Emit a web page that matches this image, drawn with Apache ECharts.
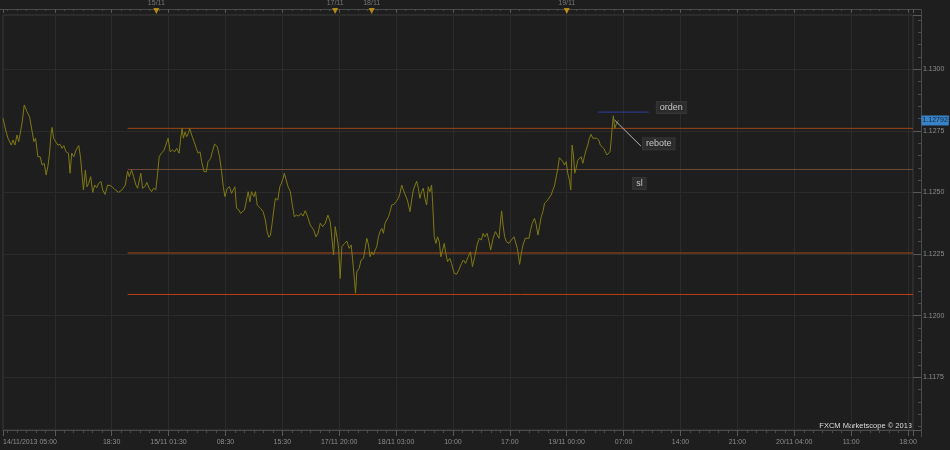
<!DOCTYPE html>
<html>
<head>
<meta charset="utf-8">
<script src="https://cdn.jsdelivr.net/npm/echarts@6/dist/echarts.min.js"></script>
<style>
html, body { margin: 0; padding: 0; background: #1e1e1e; }
#chart { width: 950px; height: 450px; }
</style>
</head>
<body>
<div id="chart"></div>
<script>
// x = trading hours counted from 14/11/2013 04:30 (weekend gap removed)
var timeHours = [
    0.63, 0.96, 1.24, 1.65, 1.86, 2.10, 2.35, 2.56, 2.75, 3.00,
    3.24, 3.57, 3.90, 4.22, 4.43, 4.64, 4.92, 5.20, 5.45, 5.70,
    5.94, 6.15, 6.36, 6.55, 6.68, 6.85, 7.09, 7.38, 7.66, 7.90,
    8.11, 8.39, 8.69, 8.88, 9.09, 9.34, 9.62, 9.95, 10.16, 10.36,
    10.53, 10.77, 10.97, 11.18, 11.42, 11.67, 11.91, 12.16, 12.40, 12.69,
    12.90, 13.18, 13.51, 13.91, 14.33, 14.86, 15.26, 15.68, 15.96, 16.17,
    16.45, 16.70, 16.98, 17.19, 17.40, 17.59, 17.80, 18.08, 18.33, 18.62,
    18.91, 19.15, 19.43, 19.64, 19.85, 20.13,
    20.46, 20.66, 20.95, 21.20, 21.48, 21.76, 22.01, 22.30, 22.50, 22.67,
    22.83, 23.04, 23.23, 23.44, 23.60, 23.85, 24.14, 24.42, 24.63, 24.88,
    25.07, 25.37, 25.65, 25.86, 26.18, 26.39, 26.67, 27.00, 27.28, 27.53,
    27.74, 27.94, 28.23, 28.51, 28.75, 28.96, 29.17, 29.37, 29.66, 29.86,
    30.10, 30.35, 30.59, 30.80, 31.01, 31.21, 31.50, 31.70, 31.91, 32.31,
    32.64, 32.92, 33.13, 33.34, 33.54, 33.75, 33.95, 34.15, 34.44, 34.69,
    34.89, 35.09, 35.25, 35.46, 35.71, 35.99, 36.20, 36.48, 36.73, 37.02,
    37.30, 37.55, 37.83, 38.12, 38.44,
    38.86, 39.14, 39.39, 39.67, 39.96, 40.28, 40.61, 40.90, 41.10, 41.31,
    41.51, 41.75, 41.93, 42.12, 42.33, 42.66, 42.94, 43.23, 43.47, 43.64,
    43.89, 44.01, 44.17, 44.45, 44.70, 44.99, 45.19, 45.40, 45.61, 45.80,
    46.01, 46.22, 46.42, 46.62, 46.83, 47.03, 47.24, 47.45, 47.64, 47.85,
    48.06, 48.26, 48.46, 48.75, 48.99, 49.28, 49.48, 49.69, 49.90, 50.09,
    50.39, 50.71, 50.92, 51.12, 51.32, 51.53, 51.74, 51.93, 52.14, 52.35,
    52.55, 52.76, 52.96, 53.16, 53.37, 53.49, 53.70, 53.90, 54.10, 54.31,
    54.51, 54.72, 54.93, 55.12, 55.33, 55.61, 55.82, 56.15, 56.43, 56.72,
    57.05, 57.29, 57.54, 57.87, 58.15,
    58.40, 58.68, 58.97, 59.22, 59.50, 59.71, 59.91, 60.20, 60.45, 60.64,
    60.94, 61.22, 61.46, 61.67, 61.87, 61.99, 62.16, 62.36, 62.57, 62.90,
    63.18, 63.51, 63.71, 63.92, 64.13, 64.20, 64.41, 64.62, 64.90, 65.14,
    65.35, 65.55, 65.76, 66.04, 66.25, 66.46, 66.65, 66.86, 67.07, 67.27,
    67.56, 67.80, 68.09, 68.29, 68.49, 68.70, 68.91, 69.10, 69.31, 69.52,
    69.72, 69.93, 70.13, 70.33, 70.50, 70.66, 70.82, 70.99, 71.15, 71.36,
    71.56, 71.77, 71.98, 72.17, 72.38, 72.59, 72.79, 73.00, 73.20, 73.40,
    73.69, 73.94, 74.13, 74.34, 74.55, 74.75, 74.96, 75.17, 75.33, 75.45,
    75.57, 75.73, 75.90, 76.06, 76.27, 76.39
];
var closePrices = [
    1.12801, 1.12753, 1.12720, 1.12692, 1.12713, 1.12692, 1.12733, 1.12706, 1.12740, 1.12787,
    1.12855, 1.12828, 1.12807, 1.12746, 1.12706, 1.12720, 1.12645, 1.12645, 1.12611, 1.12618,
    1.12571, 1.12604, 1.12659, 1.12740, 1.12764, 1.12720, 1.12713, 1.12692, 1.12695, 1.12679,
    1.12690, 1.12665, 1.12659, 1.12578, 1.12659, 1.12645, 1.12672, 1.12690, 1.12645, 1.12571,
    1.12510, 1.12591, 1.12523, 1.12537, 1.12564, 1.12500, 1.12530, 1.12519, 1.12537, 1.12544,
    1.12510, 1.12492, 1.12530, 1.12527, 1.12514, 1.12500, 1.12510, 1.12530, 1.12587, 1.12564,
    1.12591, 1.12564, 1.12530, 1.12517, 1.12523, 1.12578, 1.12517, 1.12523, 1.12541, 1.12517,
    1.12503, 1.12517, 1.12510, 1.12571, 1.12645, 1.12659,
    1.12672, 1.12692, 1.12720, 1.12665, 1.12672, 1.12665, 1.12679, 1.12659, 1.12720, 1.12760,
    1.12720, 1.12746, 1.12726, 1.12740, 1.12760, 1.12733, 1.12706, 1.12679, 1.12659, 1.12665,
    1.12625, 1.12584, 1.12584, 1.12625, 1.12638, 1.12665, 1.12696, 1.12686, 1.12645, 1.12584,
    1.12523, 1.12483, 1.12517, 1.12523, 1.12496, 1.12510, 1.12523, 1.12436, 1.12429, 1.12415,
    1.12411, 1.12429, 1.12469, 1.12503, 1.12462, 1.12503, 1.12483, 1.12503, 1.12449, 1.12436,
    1.12422, 1.12388, 1.12341, 1.12318, 1.12327, 1.12375, 1.12429, 1.12476, 1.12469, 1.12523,
    1.12537, 1.12557, 1.12578, 1.12580, 1.12523, 1.12503, 1.12456, 1.12401, 1.12408, 1.12404,
    1.12415, 1.12404, 1.12426, 1.12401, 1.12368,
    1.12348, 1.12320, 1.12334, 1.12375, 1.12361, 1.12375, 1.12408, 1.12381, 1.12375, 1.12246,
    1.12361, 1.12314, 1.12273, 1.12151, 1.12280, 1.12293, 1.12303, 1.12273, 1.12287, 1.12233,
    1.12138, 1.12091, 1.12178, 1.12192, 1.12226, 1.12233, 1.12239, 1.12314, 1.12287, 1.12239,
    1.12259, 1.12246, 1.12266, 1.12280, 1.12320, 1.12341, 1.12354, 1.12334, 1.12375, 1.12375,
    1.12401, 1.12422, 1.12449, 1.12452, 1.12462, 1.12476, 1.12496, 1.12530, 1.12510, 1.12503,
    1.12469, 1.12422, 1.12469, 1.12510, 1.12517, 1.12546, 1.12517, 1.12476, 1.12503, 1.12517,
    1.12476, 1.12449, 1.12523, 1.12503, 1.12530, 1.12462, 1.12320, 1.12293, 1.12320, 1.12300,
    1.12239, 1.12266, 1.12293, 1.12253, 1.12219, 1.12233, 1.12212, 1.12172, 1.12168, 1.12185,
    1.12212, 1.12226, 1.12212, 1.12239, 1.12259,
    1.12199, 1.12239, 1.12287, 1.12314, 1.12307, 1.12334, 1.12320, 1.12334, 1.12300, 1.12266,
    1.12314, 1.12341, 1.12348, 1.12314, 1.12388, 1.12425, 1.12368, 1.12320, 1.12300, 1.12293,
    1.12307, 1.12320, 1.12314, 1.12273, 1.12226, 1.12208, 1.12253, 1.12287, 1.12314, 1.12320,
    1.12314, 1.12348, 1.12375, 1.12395, 1.12368, 1.12327, 1.12361, 1.12401, 1.12422, 1.12456,
    1.12465, 1.12473, 1.12490, 1.12510, 1.12526, 1.12526, 1.12598, 1.12641, 1.12645, 1.12625,
    1.12611, 1.12625, 1.12578, 1.12550, 1.12510, 1.12692, 1.12652, 1.12578, 1.12598, 1.12631,
    1.12638, 1.12645, 1.12618, 1.12645, 1.12672, 1.12692, 1.12720, 1.12736, 1.12720, 1.12713,
    1.12720, 1.12713, 1.12692, 1.12699, 1.12679, 1.12665, 1.12652, 1.12652, 1.12665, 1.12706,
    1.12753, 1.12811, 1.12760, 1.12774, 1.12787, 1.12792
];
var lastPrice = 1.12792;

// hand drawn levels (start hour, price)
var levelStart = 15.96;
var levelPrices = [1.12760, 1.12593, 1.12254, 1.12086];
var levelColors = ['#9c4517', '#6f4a36', '#7a3a1a', '#b9410f'];
var levelWidths = [1, 1, 1.5, 1];

var ordenFrom = 73.85, ordenTo = 80.11, ordenPrice = 1.12826;
var reboteLine = [[75.88, 1.12794], [79.13, 1.12688]];
var noteNames = ['orden', 'rebote', 'sl'];
var notePoints = [[82.87, 1.12845], [81.33, 1.12698], [78.94, 1.12536]];

// day markers on the top ruler
var dayHours = [19.5, 41.5, 46, 70];
var dayLabels = ['15/11', '17/11', '18/11', '19/11'];

// bottom axis labels
var startLabel = '14/11/2013 05:00';
var tickHours = [7, 14, 21, 28, 35, 42, 49, 56, 63, 70, 77, 84, 91, 98, 105, 112];
var tickLabels = ['', '18:30', '15/11 01:30', '08:30', '15:30', '17/11 20:00', '18/11 03:00', '10:00',
    '17:00', '19/11 00:00', '07:00', '14:00', '21:00', '20/11 04:00', '11:00', '18:00'];

var xMin = 0.63, xMax = 112.61;
var yMin = 1.11536, yMax = 1.13220;

var chart = echarts.init(document.getElementById('chart'));

var pricePoints = [];
for (var i = 0; i < Math.min(timeHours.length, closePrices.length); i++) {
    pricePoints.push([timeHours[i], closePrices[i]]);
}

var gridColor = '#2b2b2b';
var frameColor = '#4a4a4a';
var textColor = '#8c8c8c';

var series = [{
    name: 'EUR/USD',
    type: 'line',
    data: pricePoints,
    showSymbol: false,
    symbol: 'none',
    lineStyle: { color: '#7f7a14', width: 1 },
    z: 5
}];

levelPrices.forEach(function (p, k) {
    series.push({
        type: 'line',
        data: [[levelStart, p], [xMax, p]],
        symbol: 'none',
        silent: true,
        lineStyle: { color: levelColors[k], width: levelWidths[k] },
        z: 3
    });
});

series.push({
    type: 'line',
    data: [[ordenFrom, ordenPrice], [ordenTo, ordenPrice]],
    symbol: 'none',
    silent: true,
    lineStyle: { color: '#2e3c9e', width: 1 },
    z: 3
});

series.push({
    type: 'line',
    data: reboteLine,
    symbol: 'none',
    silent: true,
    lineStyle: { color: '#b8b8b8', width: 1 },
    z: 6
});

series.push({
    type: 'scatter',
    data: notePoints,
    symbolSize: 1,
    itemStyle: { color: '#1e1e1e' },
    silent: true,
    z: 7,
    label: {
        show: true,
        position: 'inside',
        formatter: function (p) { return noteNames[p.dataIndex]; },
        color: '#e8e8e8',
        fontSize: 9,
        backgroundColor: '#2e2e2e',
        borderColor: '#3a3a3a',
        borderWidth: 1,
        padding: [1, 3, 1, 3]
    }
});

// last price tag on the price scale
series.push({
    type: 'scatter',
    data: [[xMax, lastPrice]],
    symbolSize: 1,
    itemStyle: { color: 'rgba(0,0,0,0)' },
    clip: false,
    silent: true,
    z: 8,
    label: {
        show: true,
        position: 'right',
        distance: 8,
        formatter: lastPrice.toFixed(5),
        backgroundColor: '#3f9cf2',
        color: '#0c0c0c',
        fontSize: 7,
        padding: [2, 1, 1, 1]
    }
});

series.push({
    type: 'scatter',
    xAxisIndex: 1,
    data: dayHours.map(function (h) { return [h, yMax]; }),
    symbol: 'triangle',
    symbolRotate: 180,
    symbolSize: [6, 6],
    symbolOffset: [0, -4],
    clip: false,
    silent: true,
    itemStyle: { color: '#d2a20f' },
    label: {
        show: true,
        position: 'top',
        distance: 1,
        formatter: function (p) { return dayLabels[p.dataIndex]; },
        color: textColor,
        fontSize: 7
    }
});

var option = {
    backgroundColor: '#1e1e1e',
    animation: false,
    textStyle: { fontFamily: 'Liberation Sans' },
    grid: {
        left: 0, right: 37, top: 15, bottom: 20,
        show: true,
        borderColor: '#3a3a3a',
        borderWidth: 1
    },
    xAxis: [{
        type: 'value',
        position: 'bottom',
        min: xMin,
        max: xMax,
        minInterval: 7,
        maxInterval: 7,
        splitNumber: 16,
        axisLine: { lineStyle: { color: frameColor } },
        axisTick: { show: true, length: 6, lineStyle: { color: '#585858' } },
        minorTick: { show: true, splitNumber: 6, length: 3, lineStyle: { color: '#4c4c4c' } },
        splitLine: { show: true, lineStyle: { color: gridColor } },
        axisLabel: {
            color: textColor,
            fontSize: 7,
            margin: 9,
            alignMinLabel: 'left',
            formatter: function (v) {
                if (Math.abs(v - xMin) < 0.001) return startLabel;
                for (var j = 0; j < tickHours.length; j++) {
                    if (Math.abs(v - tickHours[j]) < 0.001) return tickLabels[j];
                }
                return '';
            }
        }
    }, {
        type: 'value',
        position: 'top',
        offset: 6,
        min: xMin,
        max: xMax,
        minInterval: 7,
        maxInterval: 7,
        splitNumber: 16,
        axisLine: { lineStyle: { color: frameColor } },
        axisTick: { show: true, inside: true, length: 4, lineStyle: { color: '#585858' } },
        minorTick: { show: true, splitNumber: 6, length: 2, lineStyle: { color: '#4c4c4c' } },
        splitLine: { show: false },
        axisLabel: { show: false }
    }],
    yAxis: {
        type: 'value',
        position: 'right',
        offset: 8,
        min: yMin,
        max: yMax,
        minInterval: 0.0025,
        maxInterval: 0.0025,
        splitNumber: 7,
        axisLine: { show: true, lineStyle: { color: frameColor } },
        axisTick: { show: true, inside: true, length: 8, lineStyle: { color: '#585858' } },
        minorTick: { show: true, splitNumber: 5, length: 3, lineStyle: { color: '#4c4c4c' } },
        splitLine: { show: true, lineStyle: { color: gridColor } },
        axisLabel: {
            color: textColor,
            fontSize: 7,
            margin: 2,
            showMinLabel: false,
            showMaxLabel: false,
            formatter: function (v) { return v.toFixed(4); }
        }
    },
    graphic: [{
        type: 'polyline',
        silent: true,
        shape: { points: [[0, 9.5], [921.5, 9.5], [921.5, 437]] },
        style: { stroke: frameColor, fill: null, lineWidth: 1 }
    }, {
        type: 'text',
        right: 38,
        top: 422,
        silent: true,
        style: {
            text: 'FXCM Marketscope \u00a9 2013',
            fill: '#dedede',
            font: '7.5px "Liberation Sans"'
        }
    }],
    series: series
};

chart.setOption(option);
</script>
</body>
</html>
